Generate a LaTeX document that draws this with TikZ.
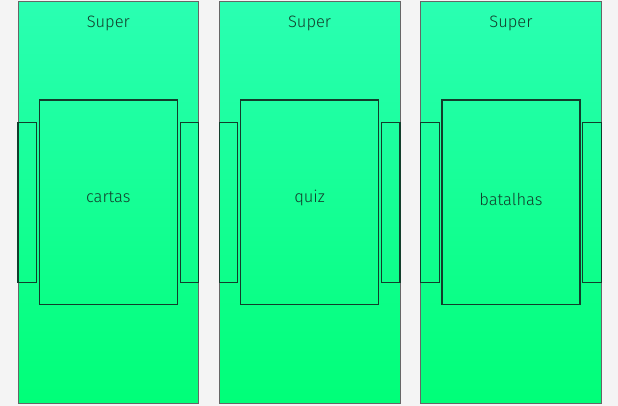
\documentclass[tikz,border=0pt]{standalone}
\usepackage{fontspec}
\setmainfont{Fira Sans}[UprightFont=* Light]
\definecolor{bgrey}{HTML}{F4F4F4}
\definecolor{mint}{HTML}{2AFFB2}
\definecolor{lime}{HTML}{00FF78}
\definecolor{ink}{HTML}{123D2B}
\begin{document}
\begin{tikzpicture}[x=1pt, y=-1pt, font=\fontsize{16.5}{19}\selectfont,
    panel/.style = {draw=black!60, line width=0.9pt, top color=mint, bottom color=lime, minimum width=180.7pt, minimum height=402pt, inner sep=0pt, outer sep=0pt},
    frame/.style = {draw=ink, line width=1.2pt, minimum width=138pt, minimum height=204.3pt, inner sep=0pt, outer sep=0pt},
    side/.style = {draw=ink, line width=1.1pt, minimum width=18.6pt, minimum height=160.2pt, inner sep=0pt, outer sep=0pt},
    txt/.style = {text=ink, inner sep=0pt, anchor=base}]

    \fill[bgrey] (0,0) rectangle (618,406);
    \useasboundingbox (0,0) rectangle (618,406);

    % cartas
    \node [panel] (p1) at (108.35, 202.3) {};
    \node [side] (l1) at (27.3, 202.4) {};
    \node [side] (r1) at (189.4, 202.4) {};
    \node [frame] (c1) at (108.3, 202.2) {};
    \node [txt] (t1) at (108.3, 27.3) {Super};
    \node [txt] (n1) at (108.3, 203) {cartas};

    % quiz
    \node [panel] (p2) at (309.65, 202.3) {};
    \node [side] (l2) at (228.6, 202.4) {};
    \node [side] (r2) at (390.7, 202.4) {};
    \node [frame] (c2) at (309.6, 202.2) {};
    \node [txt] (t2) at (309.6, 27.3) {Super};
    \node [txt] (n2) at (309.6, 203) {quiz};

    % batalhas
    \node [panel] (p3) at (510.95, 202.3) {};
    \node [side] (l3) at (429.9, 202.4) {};
    \node [side] (r3) at (592, 202.4) {};
    \node [frame] (c3) at (510.9, 202.2) {};
    \node [txt] (t3) at (510.9, 27.3) {Super};
    \node [txt] (n3) at (510.9, 205) {batalhas};

\end{tikzpicture}
\end{document}
